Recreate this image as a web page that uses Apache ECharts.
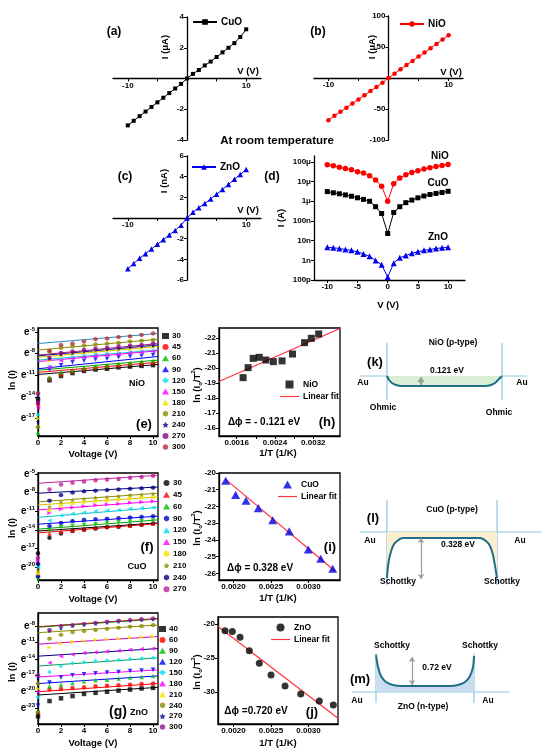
<!DOCTYPE html>
<html>
<head>
<meta charset="utf-8">
<script src="https://cdn.jsdelivr.net/npm/echarts@6/dist/echarts.min.js"></script>
<style>
  html, body { margin: 0; padding: 0; background: #fff; }
  #main { width: 550px; height: 754px; }
</style>
</head>
<body>
<div id="main"></div>
<script>
const FONT = '"Liberation Sans", Arial, Helvetica, sans-serif'

// ---- (a)-(d) room temperature I-V ----
const biasV = [-10, -9, -8, -7, -6, -5, -4, -3, -2, -1, 0, 1, 2, 3, 4, 5, 6, 7, 8, 9, 10]
const cuoCurrentUA = [-3.05, -2.75, -2.45, -2.15, -1.85, -1.55, -1.25, -0.95, -0.65, -0.35, 0, 0.3, 0.55, 0.85, 1.1, 1.4, 1.7, 2.0, 2.3, 2.7, 3.2]
const nioCurrentUA = [-68, -61, -54.5, -48, -41, -34.5, -28, -21, -14.5, -7.5, 0, 7, 14, 21, 27.5, 34.5, 41, 48, 55, 62, 69]
const znoCurrentNA = [-4.9, -4.4, -3.9, -3.45, -3.0, -2.55, -2.1, -1.65, -1.2, -0.7, 0, 0.55, 1.0, 1.4, 1.85, 2.3, 2.75, 3.25, 3.75, 4.2, 4.7]
const nioAbsA = [7.1e-5, 6.3e-5, 5.4e-5, 4.6e-5, 4.0e-5, 3.2e-5, 2.7e-5, 2.0e-5, 1.2e-5, 5.8e-6, 1.0e-6, 7.8e-6, 1.5e-5, 2.2e-5, 2.9e-5, 3.6e-5, 4.3e-5, 5.1e-5, 5.8e-5, 6.6e-5, 7.4e-5]
const cuoAbsA = [3.1e-6, 2.7e-6, 2.4e-6, 2.1e-6, 1.8e-6, 1.5e-6, 1.25e-6, 1.0e-6, 5.3e-7, 2.4e-7, 2.3e-8, 2.7e-7, 5.3e-7, 8.5e-7, 1.15e-6, 1.5e-6, 1.85e-6, 2.2e-6, 2.5e-6, 2.8e-6, 3.2e-6]
const znoAbsA = [4.6e-9, 4.3e-9, 4.0e-9, 3.5e-9, 3.2e-9, 2.7e-9, 2.1e-9, 1.6e-9, 9.8e-10, 5.9e-10, 1.4e-10, 7.2e-10, 1.35e-9, 1.75e-9, 2.3e-9, 2.7e-9, 3.2e-9, 3.5e-9, 4.0e-9, 4.3e-9, 4.6e-9]
const logTicks = [-10, -9, -8, -7, -6, -5, -4]
const logTickLabels = ['100p', '1n', '10n', '100n', '1μ', '10μ', '100μ']

// ---- (e)-(g) ln(I) vs V at several temperatures ----
const voltage = [0, 1, 2, 3, 4, 5, 6, 7, 8, 9, 10]
const lnTicksE = [-5, -8, -11, -14, -17]
const lnTicksF = [-5, -8, -11, -14, -17, -20]
const lnTicksG = [-8, -11, -14, -17, -20, -23]

const nioTemps = ['30', '45', '60', '90', '120', '150', '180', '210', '240', '270', '300']
const nioLnI = [
  [-14.3, -11.7, -11.1, -10.7, -10.4, -10.2, -10.1, -9.9, -9.8, -9.7, -9.6],
  [-15.0, -11.5, -10.9, -10.5, -10.2, -10.0, -9.8, -9.7, -9.5, -9.4, -9.3],
  [-19.0, -11.3, -10.6, -10.3, -10.0, -9.8, -9.6, -9.4, -9.3, -9.1, -9.0],
  [-13.8, -10.2, -9.6, -9.2, -9.0, -8.8, -8.7, -8.5, -8.4, -8.3, -8.2],
  [-16.5, -9.8, -8.8, -8.5, -8.3, -8.1, -8.0, -7.9, -7.8, -7.7, -7.6],
  [-15.5, -9.9, -9.0, -8.7, -8.5, -8.3, -8.2, -8.1, -7.9, -7.8, -7.7],
  [-17.0, -9.0, -8.4, -8.1, -7.9, -7.7, -7.6, -7.5, -7.4, -7.3, -7.1],
  [-18.2, -7.7, -7.2, -7.0, -6.9, -6.7, -6.6, -6.5, -6.3, -6.2, -6.1],
  [-17.5, -8.7, -8.1, -7.9, -7.7, -7.5, -7.4, -7.3, -7.1, -7.0, -6.9],
  [-14.8, -8.6, -7.9, -7.7, -7.5, -7.3, -7.2, -7.0, -6.9, -6.8, -6.6],
  [-13.5, -7.6, -6.8, -6.6, -6.3, -6.0, -5.9, -5.7, -5.6, -5.4, -5.2]
]
const nioFitStart = [-10.9, -10.6, -10.3, -10.1, -8.9, -9.1, -8.5, -7.5, -8.3, -8.2, -6.6]
const nioFitEnd = [-9.5, -9.2, -8.9, -8.4, -7.5, -7.6, -7.0, -6.0, -6.8, -6.6, -5.2]

const cuoTemps = ['30', '45', '60', '90', '120', '150', '180', '210', '240', '270']
const cuoLnI = [
  [-17.8, -15.3, -14.6, -14.2, -14.0, -13.8, -13.6, -13.5, -13.3, -13.2, -13.0],
  [-21.2, -14.6, -14.3, -14.1, -13.9, -13.7, -13.5, -13.4, -13.3, -13.1, -13.0],
  [-22.0, -14.2, -13.6, -13.4, -13.2, -13.1, -12.9, -12.8, -12.7, -12.6, -12.5],
  [-21.5, -13.4, -12.9, -12.6, -12.4, -12.3, -12.2, -12.1, -12.0, -11.9, -11.8],
  [-20.0, -12.5, -11.7, -11.4, -11.2, -11.0, -10.9, -10.8, -10.6, -10.5, -10.4],
  [-19.0, -11.3, -10.7, -10.4, -10.2, -10.0, -9.9, -9.8, -9.6, -9.5, -9.4],
  [-21.0, -10.8, -10.1, -9.7, -9.5, -9.3, -9.2, -9.1, -8.9, -8.8, -8.7],
  [-20.5, -10.3, -9.5, -9.2, -9.0, -8.8, -8.7, -8.6, -8.4, -8.3, -8.2],
  [-19.5, -9.3, -8.4, -8.0, -7.8, -7.7, -7.6, -7.5, -7.4, -7.3, -7.2],
  [-18.5, -7.5, -6.7, -6.4, -6.2, -6.0, -5.9, -5.8, -5.6, -5.5, -5.3]
]
const cuoFitStart = [-14.2, -14.5, -13.9, -13.1, -12.0, -10.8, -10.0, -9.5, -8.1, -6.5]
const cuoFitEnd = [-12.9, -13.0, -12.4, -11.8, -10.4, -9.4, -8.7, -8.1, -7.1, -5.2]

const znoTemps = ['40', '60', '90', '120', '150', '180', '210', '240', '270', '300']
const znoLnI = [
  [-24.5, -21.7, -21.2, -20.8, -20.4, -20.2, -20.0, -19.8, -19.6, -19.4, -19.3],
  [-23.8, -19.6, -19.5, -19.3, -19.2, -19.0, -18.9, -18.8, -18.7, -18.6, -18.5],
  [-23.5, -19.0, -18.7, -18.4, -18.1, -17.9, -17.8, -17.6, -17.4, -17.3, -17.1],
  [-22.5, -18.3, -17.4, -17.0, -16.8, -16.6, -16.5, -16.4, -16.2, -16.1, -16.0],
  [-21.0, -16.4, -15.3, -14.8, -14.6, -14.4, -14.3, -14.2, -14.0, -13.9, -13.8],
  [-20.0, -14.7, -13.5, -13.2, -12.9, -12.8, -12.6, -12.5, -12.3, -12.2, -12.1],
  [-19.5, -11.9, -11.2, -10.9, -10.7, -10.5, -10.4, -10.3, -10.1, -10.0, -9.9],
  [-18.5, -10.3, -9.6, -9.1, -8.9, -8.7, -8.5, -8.3, -8.1, -8.0, -7.8],
  [-17.5, -8.9, -8.4, -8.0, -7.8, -7.6, -7.4, -7.2, -7.0, -6.9, -6.8],
  [-17.0, -8.7, -8.0, -7.8, -7.6, -7.4, -7.2, -7.0, -6.9, -6.7, -6.6]
]
const znoFitStart = [-20.6, -20.0, -18.5, -17.3, -15.3, -13.5, -11.3, -9.2, -8.2, -8.1]
const znoFitEnd = [-19.2, -18.5, -17.1, -16.0, -13.8, -12.1, -9.9, -7.8, -6.7, -6.6]

// ---- (h)-(j) Richardson plots ----
const nioInvT = [0.001733, 0.001838, 0.001944, 0.00207, 0.00221, 0.002365, 0.002547, 0.002765, 0.003017, 0.003158, 0.003312]
const nioLnIoT2 = [-19.35, -20.02, -20.64, -20.71, -20.53, -20.42, -20.47, -20.93, -21.69, -21.98, -22.27]
const nioFitX = [0.00123, 0.003757]
const nioFitY = [-19.09, -22.64]
const cuoInvT = [0.001896, 0.002029, 0.002167, 0.002331, 0.002523, 0.002744, 0.002997, 0.003163, 0.003323]
const cuoLnIoT2 = [-20.46, -21.31, -21.66, -22.10, -22.83, -23.49, -24.58, -25.13, -25.73]
const cuoFitX = [0.001896, 0.003353]
const cuoFitY = [-20.38, -25.86]
const znoInvT = [0.001887, 0.001984, 0.002087, 0.002211, 0.002344, 0.0025, 0.002687, 0.002896, 0.003144, 0.003331]
const znoLnIoT2 = [-21.03, -21.13, -21.96, -23.97, -25.78, -27.5, -29.12, -30.29, -31.32, -31.9]
const znoFitX = [0.001793, 0.003393]
const znoFitY = [-20.4, -33.87]

// ---- (k)-(m) band sketches (x: offset along junction, y: energy relative to Au level) ----
const kBandX = [32, 34, 37, 41, 47, 130, 136, 140, 143, 147]
const kBandY = [0, -4, -7, -9, -10, -10, -9, -7, -4, 0]
const lBandX = [32, 33, 35, 38, 42, 48, 125, 131, 135, 138, 140, 142]
const lBandY = [-46, -34, -23, -14, -9, -6, -6, -9, -14, -23, -34, -46]
const mBandX = [31, 33, 36, 41, 48, 57, 105, 113, 120, 125, 128, 129]
const mBandY = [37, 25, 16, 10, 7, 6, 6, 7, 10, 16, 25, 36]

const zip = (xs, ys) => xs.map((x, i) => [x, ys[i]])

const chart = echarts.init(document.getElementById('main'), null, { renderer: 'canvas' })

const merge = (base, extra) => {
  const out = Object.assign({}, base)
  Object.keys(extra || {}).forEach(k => {
    const v = extra[k]
    out[k] = (v && typeof v === 'object' && !Array.isArray(v) && typeof base[k] === 'object')
      ? Object.assign({}, base[k], v) : v
  })
  return out
}

const axis = (gi, min, max, labels, ticks, extra) => merge({
  type: 'value', gridIndex: gi, min, max,
  splitLine: { show: false },
  axisLine: { show: true, onZero: false, lineStyle: { color: '#000', width: 1.3 } },
  axisTick: { show: true, length: 3, customValues: ticks || labels, lineStyle: { color: '#000', width: 1 } },
  axisLabel: { show: true, customValues: labels, color: '#000', fontSize: 8, fontWeight: 'bold', fontFamily: FONT, margin: 3 }
}, extra)

const hidden = (gi, min, max) => ({ type: 'value', gridIndex: gi, min, max, show: false })

const eRich = {
  b: { fontSize: 10, fontWeight: 'bold', fontFamily: FONT, color: '#000', lineHeight: 12 },
  s: { fontSize: 6, fontWeight: 'bold', fontFamily: FONT, color: '#000', lineHeight: 12, verticalAlign: 'top' }
}
const expLabel = { formatter: v => '{b|e}{s|' + v + '}', rich: eRich }

const box = (left, top, width, height, show) => ({
  left, top, width, height, show: !!show, borderColor: '#000', borderWidth: 1.3,
  backgroundColor: 'transparent', containLabel: false, outerBoundsMode: 'none'
})

const grids = [
  box(113, 17, 148, 123), box(314, 16, 149, 124), box(113, 156, 148, 124), box(314, 156, 151, 124),
  box(38, 328, 120, 108, true), box(38, 473, 120, 107, true), box(38, 613, 120, 111, true),
  box(219, 328, 121, 108, true), box(219, 473, 121, 107, true), box(218, 617, 120, 107, true),
  box(355, 330, 190, 90), box(355, 495, 195, 95), box(345, 640, 190, 80)
]

// crossing axes of (a)-(c): shift the axes from the grid edge to the zero line
const crossX = h => ({ offset: -h / 2 })
const fmt4 = { formatter: v => v.toFixed(4) }
const xAxes = [
  axis(0, -12.5, 12.5, [-10, 10], [-10, -5, 5, 10], crossX(123)),
  axis(1, -12.4, 12.4, [-10, 10], [-10, -5, 5, 10], crossX(124)),
  axis(2, -12.5, 12.5, [-10, 10], [-10, -5, 5, 10], crossX(124)),
  axis(3, -12.2, 12.8, [-10, -5, 0, 5, 10]),
  axis(4, 0, 10.43, [0, 2, 4, 6, 8, 10]),
  axis(5, 0, 10.43, [0, 2, 4, 6, 8, 10]),
  axis(6, 0, 10.43, [0, 2, 4, 6, 8, 10]),
  axis(7, 0.00123, 0.003757, [0.0016, 0.0024, 0.0032], [0.0016, 0.002, 0.0024, 0.0028, 0.0032], { axisLabel: fmt4 }),
  axis(8, 0.001807, 0.00342, [0.002, 0.0025, 0.003], null, { axisLabel: fmt4 }),
  axis(9, 0.001793, 0.003393, [0.002, 0.0025, 0.003], null, { axisLabel: fmt4 }),
  hidden(10, 0, 190), hidden(11, 0, 195), hidden(12, 0, 190)
]
const yAxes = [
  axis(0, -4, 4, [-4, -2, 2, 4], [-4, -2, 0, 2, 4], { offset: -74 }),
  axis(1, -100, 100, [-100, -50, 50, 100], [-100, -50, 0, 50, 100], { offset: -74.5 }),
  axis(2, -6, 6, [-6, -4, -2, 2, 4, 6], [-6, -4, -2, 0, 2, 4, 6], { offset: -74 }),
  axis(3, -10, -3.7, logTicks, null, { axisLabel: { formatter: v => logTickLabels[logTicks.indexOf(Math.round(v))] } }),
  axis(4, -19.44, -4.44, lnTicksE, null, { axisLabel: expLabel }),
  axis(5, -22.1, -4.84, lnTicksF, null, { axisLabel: expLabel }),
  axis(6, -25.9, -5.6, lnTicksG, null, { axisLabel: expLabel }),
  axis(7, -22.67, -15.45, [-22, -21, -20, -19, -18, -17, -16], null, { inverse: true }),
  axis(8, -26.4, -20, [-26, -25, -24, -23, -22, -21, -20]),
  axis(9, -34.7, -19, [-30, -25, -20]),
  hidden(10, -44, 46), hidden(11, -58, 37), hidden(12, -28, 52)
]

const HEX = 'path://M0,-10L8.7,-5L8.7,5L0,10L-8.7,5L-8.7,-5Z'
const STAR = 'path://M0,-10L2.9,-4L9.5,-3.1L4.7,1.5L5.9,8.1L0,5L-5.9,8.1L-4.7,1.5L-9.5,-3.1L-2.9,-4Z'
const SQUARE = 'path://M0,0L10,0L10,10L0,10Z'
const TRI = 'path://M5,0L10,9L0,9Z'
const FITLINE = 'path://M0,0L40,0L40,2.4L0,2.4Z'
const nioMarks = [
  { s: 'rect', c: '#000' }, { s: 'circle', c: '#ff0000' }, { s: 'triangle', c: '#00c000' },
  { s: 'triangle', r: 180, c: '#0000ff' }, { s: 'diamond', c: '#00e0f0' }, { s: 'triangle', r: 90, c: '#ff00ff' },
  { s: 'triangle', r: -90, c: '#f2e200' }, { s: HEX, c: '#8c8c00' }, { s: STAR, c: '#000090', z: 4 },
  { s: 'circle', c: '#8b008b' }, { s: HEX, c: '#b0303a' }
]
const nioFitColors = ['#000', '#ff0000', '#00a000', '#0000ff', '#00c0d0', '#ff00ff', '#d0c000', '#8c8c00', '#000080', '#a0207a', '#2a8cc0']
const cuoMarks = [
  { s: 'circle', c: '#000' }, { s: 'triangle', c: '#ff0000' }, { s: 'triangle', r: 180, c: '#00c000' },
  { s: HEX, c: '#0000cc' }, { s: 'triangle', r: 90, c: '#00e0f0' }, { s: 'triangle', r: -90, c: '#ff00ff' },
  { s: 'circle', c: '#f2e200' }, { s: STAR, c: '#8c8c00' }, { s: HEX, c: '#000080' }, { s: 'circle', c: '#c0209a' }
]
const cuoFitColors = ['#000', '#ff0000', '#00a000', '#0000ff', '#00c0d0', '#ff00ff', '#d0c000', '#8c8c00', '#000080', '#c0209a']
const znoMarks = [
  { s: 'rect', c: '#000' }, { s: 'circle', c: '#ff0000' }, { s: 'triangle', c: '#00c000' },
  { s: 'triangle', r: 180, c: '#0000ff' }, { s: 'diamond', c: '#00e0f0' }, { s: 'triangle', r: 90, c: '#ff00ff' },
  { s: 'triangle', r: -90, c: '#f2e200' }, { s: HEX, c: '#8c8c00' }, { s: STAR, c: '#000090', z: 4 }, { s: HEX, c: '#8b1a8b' }
]
const znoFitColors = ['#000', '#ff0000', '#0000ff', '#ff00ff', '#00a050', '#000080', '#cc00cc', '#8c8c00', '#00a000', '#a02020']

const series = []

const ivLine = (name, gi, xs, ys, symbol, size, color) => ({
  type: 'line', name, xAxisIndex: gi, yAxisIndex: gi, data: zip(xs, ys),
  symbol, symbolSize: size, itemStyle: { color }, lineStyle: { color, width: 1 }, z: 3
})
series.push(ivLine('a|CuO', 0, biasV, cuoCurrentUA, 'rect', 4, '#000'))
series.push(ivLine('b|NiO', 1, biasV, nioCurrentUA, 'circle', 4.5, '#ff0000'))
series.push(ivLine('c|ZnO', 2, biasV, znoCurrentNA, 'triangle', 5.5, '#0000ee'))
series.push(ivLine('dNiO', 3, biasV, nioAbsA.map(Math.log10), 'circle', 5.5, '#ff0000'))
series.push(ivLine('dCuO', 3, biasV, cuoAbsA.map(Math.log10), 'rect', 5, '#000'))
series.push(ivLine('dZnO', 3, biasV, znoAbsA.map(Math.log10), 'triangle', 6, '#0000ee'))

const tempPanel = (p, gi, temps, vals, fitA, fitB, marks, fitColors) => {
  temps.forEach((t, i) => {
    const m = marks[i]
    series.push({
      type: 'scatter', name: p + '|' + t, xAxisIndex: gi, yAxisIndex: gi,
      symbol: m.s, symbolRotate: m.r || 0, symbolSize: m.z || 4.5,
      itemStyle: { color: m.c }, data: zip(voltage, vals[i]), z: 3
    })
    series.push({
      type: 'line', name: p + 'fit' + t, xAxisIndex: gi, yAxisIndex: gi, symbol: 'none', silent: true,
      lineStyle: { color: fitColors[i], width: 1 }, data: [[0, fitA[i]], [10.43, fitB[i]]], z: 2
    })
  })
}
tempPanel('e', 4, nioTemps, nioLnI, nioFitStart, nioFitEnd, nioMarks, nioFitColors)
tempPanel('f', 5, cuoTemps, cuoLnI, cuoFitStart, cuoFitEnd, cuoMarks, cuoFitColors)
tempPanel('g', 6, znoTemps, znoLnI, znoFitStart, znoFitEnd, znoMarks, znoFitColors)

const richardson = (p, gi, label, xs, ys, fx, fy, symbol, size, color) => {
  series.push({ type: 'scatter', name: p + '|' + label, xAxisIndex: gi, yAxisIndex: gi, symbol, symbolSize: size, symbolKeepAspect: true, itemStyle: { color }, data: zip(xs, ys), z: 3 })
  series.push({ type: 'line', name: p + '|Linear fit', xAxisIndex: gi, yAxisIndex: gi, symbol: 'none', itemStyle: { color: '#ff3040' }, lineStyle: { color: '#ff3040', width: 1.2 }, data: zip(fx, fy), z: 2 })
}
richardson('h', 7, 'NiO', nioInvT, nioLnIoT2, nioFitX, nioFitY, SQUARE, 7, '#000')
richardson('i', 8, 'CuO', cuoInvT, cuoLnIoT2, cuoFitX, cuoFitY, TRI, 9, '#0000e0')
richardson('j', 9, 'ZnO', znoInvT, znoLnIoT2, znoFitX, znoFitY, 'circle', 7, '#000')

const WALL = '#8ec5dd'
const seg = (gi, pts, color, width) => ({
  type: 'line', xAxisIndex: gi, yAxisIndex: gi, data: pts, symbol: 'none', silent: true,
  lineStyle: { color, width }, z: 1
})
const band = (gi, xs, ys, fill, walls, au, arrow) => {
  series.push({
    type: 'line', xAxisIndex: gi, yAxisIndex: gi, data: zip(xs, ys), smooth: 0.3, symbol: 'none', silent: true,
    lineStyle: { color: '#1e6e86', width: 2 }, areaStyle: { color: fill, opacity: 1, origin: 'auto' }, z: 2,
    markLine: {
      silent: true, symbol: ['arrow', 'arrow'], symbolSize: 5, label: { show: false },
      lineStyle: { color: '#9a9a9a', type: 'solid', width: 1.2 },
      data: [[{ coord: [arrow[0], arrow[1]] }, { coord: [arrow[0], arrow[2]] }]]
    }
  })
  walls.forEach(w => series.push(seg(gi, [[w[0], w[1]], [w[0], w[2]]], WALL, 1.2)))
  au.forEach(a => series.push(seg(gi, [[a[0], 0], [a[1], 0]], WALL, 1.2)))
}
band(10, kBandX, kBandY, '#d8efd5', [[32, 33, -24], [147, 33, -24]], [[5, 32], [147, 172]], [66, -1, -9])
band(11, lBandX, lBandY, '#fbefcf', [[32, 32, -53], [142, 32, -53]], [[5, 187]], [66, -6, -47])
band(12, mBandX, mBandY, '#cadcee', [[31, 39, -11], [129, 39, -11]], [[7, 165]], [67, 35, 7])

const legendBase = {
  orient: 'vertical', padding: 0, selectedMode: false, itemGap: 3, itemWidth: 7, itemHeight: 6,
  symbolKeepAspect: true,
  formatter: n => n.split('|')[1],
  textStyle: { fontSize: 8, fontWeight: 'bold', fontFamily: FONT, color: '#000', padding: [0, 0, 0, -2] }
}
const big = { itemWidth: 24, itemHeight: 7, textStyle: { fontSize: 10, fontWeight: 'bold', fontFamily: FONT, color: '#000', padding: [0, 0, 0, -1] } }
const fitLeg = { itemWidth: 19, itemHeight: 8, itemGap: 3, textStyle: { fontSize: 8.5, fontWeight: 'bold', fontFamily: FONT, color: '#000', padding: [0, 0, 0, -1] } }
const fitItems = (p, label) => [{ name: p + '|' + label }, { name: p + '|Linear fit', icon: FITLINE }]
const legends = [
  merge(legendBase, Object.assign({ data: ['a|CuO'], left: 192, top: 17 }, big)),
  merge(legendBase, Object.assign({ data: ['b|NiO'], left: 399, top: 19 }, big)),
  merge(legendBase, Object.assign({ data: ['c|ZnO'], left: 191, top: 162 }, big)),
  merge(legendBase, { data: nioTemps.map(t => 'e|' + t), left: 162, top: 332, itemGap: 3.1 }),
  merge(legendBase, { data: cuoTemps.map(t => 'f|' + t), left: 163, top: 479, itemGap: 3.8 }),
  merge(legendBase, { data: znoTemps.map(t => 'g|' + t), left: 159, top: 625, itemGap: 2.9 }),
  merge(legendBase, Object.assign({ data: fitItems('h', 'NiO'), left: 280, top: 380 }, fitLeg)),
  merge(legendBase, Object.assign({ data: fitItems('i', 'CuO'), left: 278, top: 480 }, fitLeg)),
  merge(legendBase, Object.assign({ data: fitItems('j', 'ZnO'), left: 271, top: 623 }, fitLeg))
]

const txt = (text, x, y, size, rot, align) => ({
  type: 'text', x, y, rotation: rot ? Math.PI / 2 : 0, z: 100, silent: true,
  style: {
    text, fill: '#000', font: `bold ${size}px ${FONT}`,
    align: align || 'center', verticalAlign: 'middle', textAlign: align || 'center', textVerticalAlign: 'middle'
  }
})
const lnTitle = (x, y) => ({
  type: 'text', x, y, rotation: Math.PI / 2, z: 100, silent: true,
  style: {
    text: '{n|ln (I}{d|o}{n|/T}{u|2}{n|)}', fill: '#000',
    align: 'center', verticalAlign: 'middle', textAlign: 'center', textVerticalAlign: 'middle',
    rich: {
      n: { fontSize: 9.5, fontWeight: 'bold', fontFamily: FONT, lineHeight: 13 },
      d: { fontSize: 6, fontWeight: 'bold', fontFamily: FONT, lineHeight: 13, verticalAlign: 'bottom' },
      u: { fontSize: 6, fontWeight: 'bold', fontFamily: FONT, lineHeight: 13, verticalAlign: 'top' }
    }
  }
})

const texts = [
  txt('(a)', 114, 32, 12), txt('(b)', 318, 32, 12), txt('(c)', 125, 177, 12), txt('(d)', 272, 177, 12),
  txt('At room temperature', 277, 141, 11.5),
  txt('I (μA)', 165, 47, 9.5, true), txt('V (V)', 248, 71, 9.5),
  txt('I (μA)', 372, 47, 9.5, true), txt('V (V)', 451, 72, 9.5),
  txt('I (nA)', 164, 181, 9.5, true), txt('V (V)', 248, 210, 9.5),
  txt('I (A)', 281, 218, 9.5, true), txt('V (V)', 388, 305, 9.5),
  txt('NiO', 440, 156, 10), txt('CuO', 438, 183, 10), txt('ZnO', 438, 237, 10),

  txt('ln (I)', 12, 380, 9.5, true), txt('Voltage (V)', 93, 454, 9.5), txt('NiO', 137, 384, 9), txt('(e)', 144, 424, 13),
  txt('ln (I)', 12, 528, 9.5, true), txt('Voltage (V)', 93, 599, 9.5), txt('CuO', 137, 567, 9), txt('(f)', 147, 547, 13),
  txt('ln (I)', 12, 672, 9.5, true), txt('Voltage (V)', 93, 743, 9.5), txt('(g)', 118, 712, 14), txt('ZnO', 139, 713, 9),

  lnTitle(197, 385), lnTitle(197, 528), lnTitle(197, 672),
  txt('1/T (1/K)', 278, 453, 9.5), txt('1/T (1/K)', 278, 598, 9.5), txt('1/T (1/K)', 278, 743, 9.5),
  txt('Δϕ = - 0.121 eV', 264, 422, 10), txt('(h)', 327, 422, 13),
  txt('(i)', 330, 547, 13), txt('Δϕ = 0.328 eV', 260, 568, 10),
  txt('Δϕ =0.720 eV', 256, 711, 10), txt('(j)', 312, 712, 13),

  txt('NiO (p-type)', 453, 343, 8.5), txt('(k)', 375, 362, 13), txt('0.121 eV', 447, 371, 8.5),
  txt('Au', 363, 383, 8.5), txt('Au', 522, 383, 8.5), txt('Ohmic', 383, 408, 8.5), txt('Ohmic', 499, 413, 8.5),
  txt('CuO (p-type)', 452, 510, 8.5), txt('(l)', 373, 518, 13), txt('Au', 370, 541, 8.5), txt('Au', 520, 541, 8.5),
  txt('0.328 eV', 458, 545, 8.5), txt('Schottky', 398, 582, 8.5), txt('Schottky', 502, 582, 8.5),
  txt('Schottky', 392, 646, 8.5), txt('Schottky', 480, 646, 8.5), txt('0.72 eV', 437, 668, 8.5),
  txt('(m)', 360, 679, 13), txt('Au', 357, 701, 8.5), txt('Au', 488, 701, 8.5), txt('ZnO (n-type)', 423, 707, 8.5)
]

chart.setOption({
  animation: false,
  backgroundColor: '#fff',
  textStyle: { fontFamily: FONT },
  grid: grids,
  xAxis: xAxes,
  yAxis: yAxes,
  legend: legends,
  series,
  graphic: { elements: texts }
})

window.addEventListener('resize', () => chart.resize())
</script>
</body>
</html>
